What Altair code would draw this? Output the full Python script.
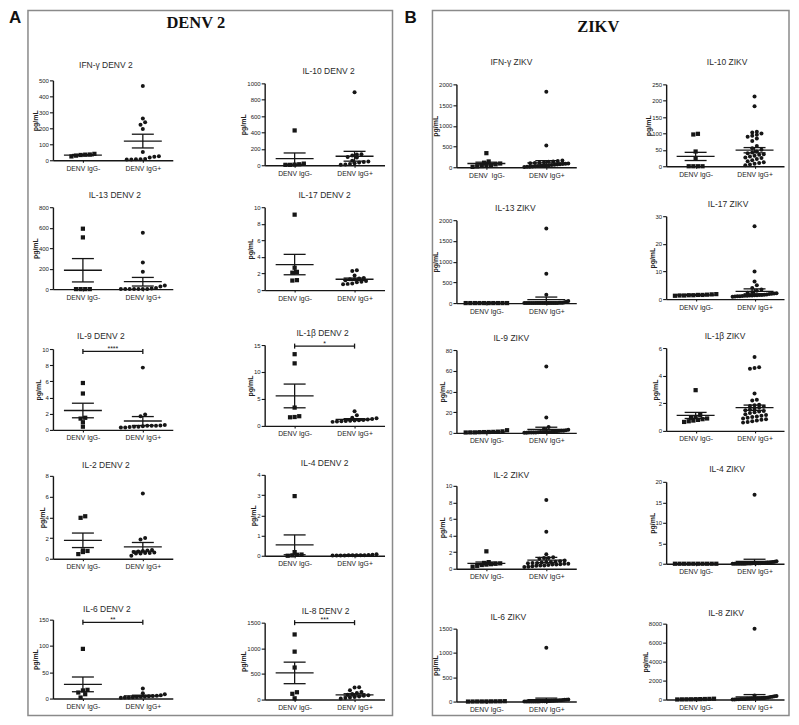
import altair as alt
import pandas as pd

# ------------------------------------------------------------------
# Data (pg/mL). neg = DENV IgG-, pos = DENV IgG+
# stats = [mean IgG-, SEM IgG-, mean IgG+, SEM IgG+]
# ------------------------------------------------------------------
# ---- A: DENV 2 ----
ifng_denv_neg = [40, 36, 33, 29, 24, 35]
ifng_denv_pos = [465, 262, 238, 222, 196, 52, 25, 22, 18, 8, 6, 5, 5, 7]
ifng_denv_stats = [32, 4, 120, 43]

il10_denv_neg = [425, 20, 12, 8, 5, 5]
il10_denv_pos = [890, 135, 130, 120, 100, 95, 55, 45, 40, 35, 25, 15, 8, 5]
il10_denv_stats = [81, 69, 110, 60]

il13_denv_neg = [590, 505, 0, 0, 0, 0]
il13_denv_pos = [550, 260, 170, 35, 25, 10, 5, 2, 0, 0, 0, 0, 0, 0]
il13_denv_stats = [184, 114, 72, 42]

il17_denv_neg = [9.1, 2.7, 2.2, 2.1, 1.15, 1.2]
il17_denv_pos = [2.4, 2.3, 1.75, 1.45, 1.4, 1.3, 1.3, 1.2, 1.1, 1.0, 0.95, 0.8, 0.75, 0.7]
il17_denv_stats = [3.08, 1.23, 1.31, 0.14]

il9_denv_neg = [5.8, 4.5, 1.5, 1.4, 0.95, 0.4]
il9_denv_pos = [7.7, 1.9, 1.7, 0.6, 0.55, 0.5, 0.5, 0.5, 0.45, 0.4, 0.4, 0.35, 0.3, 0.3]
il9_denv_stats = [2.4, 0.9, 1.1, 0.55]
il9_denv_sig = [9.7, "****"]

il1b_denv_neg = [13.3, 11.6, 3.4, 1.8, 1.65, 1.6]
il1b_denv_pos = [2.7, 2.0, 1.5, 1.4, 1.3, 1.2, 1.1, 1.05, 1.0, 0.95, 0.9, 0.85, 0.8, 0.75]
il1b_denv_stats = [5.56, 2.2, 1.2, 0.15]
il1b_denv_sig = [14.8, "*"]

il2_denv_neg = [4.1, 3.95, 0.8, 0.75, 0.45, 0.65]
il2_denv_pos = [6.3, 2.0, 1.85, 0.85, 0.8, 0.75, 0.7, 0.65, 0.6, 0.55, 0.55, 0.5, 0.5, 0.3]
il2_denv_stats = [1.78, 0.7, 1.15, 0.42]

il4_denv_neg = [2.95, 0.18, 0.06, 0.02, 0.0, 0.05]
il4_denv_pos = [0.08, 0.05, 0.04, 0.03, 0.03, 0.02, 0.02, 0.02, 0.01, 0.01, 0.01, 0.01]
il4_denv_stats = [0.54, 0.49, 0.03, 0.006]

il6_denv_neg = [94.5, 16.6, 15.5, 11.5, 8.3, 2.0]
il6_denv_pos = [19, 10, 8, 6.5, 5.5, 5, 4.5, 4, 3.5, 3, 2.5, 2, 2, 1.5]
il6_denv_stats = [27, 14, 5.1, 1.3]
il6_denv_sig = [145, "**"]

il8_denv_neg = [1270, 935, 625, 143, 112, 25]
il8_denv_pos = [242, 235, 180, 150, 130, 110, 95, 85, 75, 60, 50, 40, 30, 20]
il8_denv_stats = [520, 210, 92, 22]
il8_denv_sig = [1500, "***"]

# ---- B: ZIKV ----
ifng_zikv_neg = [340, 140, 110, 90, 70, 55, 40, 30, 20, 10]
ifng_zikv_pos = [1820, 525, 160, 150, 140, 130, 120, 110, 100, 95, 90, 85, 80, 70,
                 65, 60, 55, 50, 45, 40, 35, 30, 25, 20, 15, 10, 5]
ifng_zikv_stats = [90, 32, 104, 56]

il10_zikv_neg = [99, 97, 45, 25, 0, 0, 0, 0]
il10_zikv_pos = [213, 183, 105, 103, 100, 96, 93, 90, 85, 77, 62, 55, 50, 45, 42,
                 40, 37, 35, 32, 30, 27, 25, 22, 18, 15, 12, 10, 8, 5, 3]
il10_zikv_stats = [30, 12.5, 49, 8]

il13_zikv_neg = [0, 0, 0, 0, 0, 0, 0, 0, 0, 0]
il13_zikv_pos = [1800, 705, 200, 50, 30, 20, 10, 5, 5, 0, 0, 0, 0, 0, 0, 0, 0, 0,
                 0, 0, 0, 0, 0, 0, 0, 0, 0, 0]
il13_zikv_stats = [0, 0, 85, 60]

il17_zikv_neg = [1.8, 1.7, 1.6, 1.5, 1.5, 1.4, 1.4, 1.3, 1.3, 1.2]
il17_zikv_pos = [26.4, 10.0, 6.4, 5.0, 4.0, 3.5, 3.0, 2.6, 2.3, 2.1, 2.0, 1.9, 1.8, 1.7,
                 1.6, 1.5, 1.5, 1.4, 1.4, 1.3, 1.3, 1.2, 1.2, 1.1, 1.0, 1.0, 0.9, 0.8]
il17_zikv_stats = [1.47, 0.06, 2.8, 0.9]

il9_zikv_neg = [2.6, 1.5, 1.2, 1.0, 0.9, 0.8, 0.7, 0.5, 0.5, 0.4]
il9_zikv_pos = [64, 14.8, 5.8, 4.0, 3.0, 2.5, 2.0, 2.0, 1.8, 1.5, 1.5, 1.2, 1.0, 1.0,
                1.0, 0.8, 0.8, 0.6, 0.5, 0.5, 0.4, 0.3, 0.2, 0.1]
il9_zikv_stats = [1.0, 0.2, 3.3, 2.2]

il1b_zikv_neg = [2.95, 1.15, 1.0, 0.95, 0.9, 0.85, 0.8, 0.75, 0.7, 0.65]
il1b_zikv_pos = [5.35, 4.6, 4.55, 4.5, 2.7, 2.25, 2.2, 1.9, 1.85, 1.8, 1.75, 1.7, 1.6,
                 1.55, 1.5, 1.45, 1.4, 1.35, 1.3, 1.2, 1.15, 1.1, 1.05, 1.0, 0.95,
                 0.9, 0.85, 0.8, 0.75, 0.7, 0.65, 0.6]
il1b_zikv_stats = [1.12, 0.22, 1.68, 0.19]

il2_zikv_neg = [2.1, 0.8, 0.7, 0.65, 0.6, 0.55, 0.5, 0.45, 0.35, 0.25]
il2_zikv_pos = [8.3, 4.45, 1.75, 1.4, 1.3, 1.3, 1.2, 1.0, 0.9, 0.85, 0.8, 0.8, 0.75,
                0.7, 0.7, 0.65, 0.6, 0.6, 0.55, 0.5, 0.5, 0.45, 0.4, 0.4, 0.35, 0.3,
                0.25, 0.2]
il2_zikv_stats = [0.65, 0.16, 1.05, 0.32]

il4_zikv_neg = [0, 0, 0, 0, 0, 0, 0, 0, 0, 0]
il4_zikv_pos = [16.85, 0.6, 0.5, 0.4, 0.35, 0.3, 0.3, 0.25, 0.2, 0.2, 0.15, 0.15, 0.1,
                0.1, 0.1, 0.05, 0.05, 0.05, 0.0, 0.0, 0.0, 0.0, 0.0, 0.0, 0.0, 0.0]
il4_zikv_stats = [0, 0, 0.6, 0.5]

il6_zikv_neg = [8, 6, 5, 4, 3, 2, 2, 1, 0]
il6_zikv_pos = [1105, 45, 40, 35, 30, 28, 25, 22, 20, 18, 15, 12, 10, 8, 6, 5, 4, 3,
                2, 1, 0, 0, 0, 0, 0, 0]
il6_zikv_stats = [3, 1, 41, 30]

il8_zikv_neg = [90, 70, 60, 50, 40, 30, 25, 20, 10]
il8_zikv_pos = [7470, 420, 380, 350, 300, 260, 220, 200, 180, 160, 150, 130, 120, 110,
                100, 90, 80, 70, 60, 50, 40, 30, 20, 10]
il8_zikv_stats = [45, 9, 280, 245]

GROUP_LABELS = ["DENV IgG-", "DENV IgG+"]

# plot definitions per column (top to bottom)
COLUMNS = [
    [
        dict(title="IFN-γ DENV 2", neg=ifng_denv_neg, pos=ifng_denv_pos, stats=ifng_denv_stats, ymax=500, step=100),
        dict(title="IL-13 DENV 2", neg=il13_denv_neg, pos=il13_denv_pos, stats=il13_denv_stats, ymax=800, step=200),
        dict(title="IL-9 DENV 2", neg=il9_denv_neg, pos=il9_denv_pos, stats=il9_denv_stats, ymax=10, step=2, sig=il9_denv_sig),
        dict(title="IL-2 DENV 2", neg=il2_denv_neg, pos=il2_denv_pos, stats=il2_denv_stats, ymax=8, step=2),
        dict(title="IL-6 DENV 2", neg=il6_denv_neg, pos=il6_denv_pos, stats=il6_denv_stats, ymax=150, step=50, sig=il6_denv_sig),
    ],
    [
        dict(title="IL-10 DENV 2", neg=il10_denv_neg, pos=il10_denv_pos, stats=il10_denv_stats, ymax=1000, step=200),
        dict(title="IL-17 DENV 2", neg=il17_denv_neg, pos=il17_denv_pos, stats=il17_denv_stats, ymax=10, step=2),
        dict(title="IL-1β DENV 2", neg=il1b_denv_neg, pos=il1b_denv_pos, stats=il1b_denv_stats, ymax=15, step=5, sig=il1b_denv_sig),
        dict(title="IL-4 DENV 2", neg=il4_denv_neg, pos=il4_denv_pos, stats=il4_denv_stats, ymax=4, step=1),
        dict(title="IL-8 DENV 2", neg=il8_denv_neg, pos=il8_denv_pos, stats=il8_denv_stats, ymax=1500, step=500, sig=il8_denv_sig),
    ],
    [
        dict(title="IFN-γ ZIKV", neg=ifng_zikv_neg, pos=ifng_zikv_pos, stats=ifng_zikv_stats, ymax=2000, step=500, neglabel="DENV\u00a0 IgG-"),
        dict(title="IL-13 ZIKV", neg=il13_zikv_neg, pos=il13_zikv_pos, stats=il13_zikv_stats, ymax=2000, step=500),
        dict(title="IL-9 ZIKV", neg=il9_zikv_neg, pos=il9_zikv_pos, stats=il9_zikv_stats, ymax=80, step=20),
        dict(title="IL-2 ZIKV", neg=il2_zikv_neg, pos=il2_zikv_pos, stats=il2_zikv_stats, ymax=10, step=2),
        dict(title="IL-6 ZIKV", neg=il6_zikv_neg, pos=il6_zikv_pos, stats=il6_zikv_stats, ymax=1500, step=500),
    ],
    [
        dict(title="IL-10 ZIKV", neg=il10_zikv_neg, pos=il10_zikv_pos, stats=il10_zikv_stats, ymax=250, step=50),
        dict(title="IL-17 ZIKV", neg=il17_zikv_neg, pos=il17_zikv_pos, stats=il17_zikv_stats, ymax=30, step=10),
        dict(title="IL-1β ZIKV", neg=il1b_zikv_neg, pos=il1b_zikv_pos, stats=il1b_zikv_stats, ymax=6, step=2),
        dict(title="IL-4 ZIKV", neg=il4_zikv_neg, pos=il4_zikv_pos, stats=il4_zikv_stats, ymax=20, step=5),
        dict(title="IL-8 ZIKV", neg=il8_zikv_neg, pos=il8_zikv_pos, stats=il8_zikv_stats, ymax=8000, step=2000),
    ],
]

# ------------------------------------------------------------------
# Layout (page pixels)
# ------------------------------------------------------------------
COL_X = [52, 264, 456, 666, 784]        # y-axis x of each column (+ right end)
PLOT_W = [120, 120, 120, 118]           # length of x axis
ROW_Y = [8, 166, 302, 432, 568, 701]    # grid row boundaries
# per plot: (title centre x, title centre y, axis top y, axis bottom y)
GEOM = [
    [(105, 64, 79, 159), (114, 194, 206, 288), (100, 335, 348, 429), (105, 464, 475, 558), (106, 608, 619, 698)],
    [(328, 70, 82, 164), (324, 194, 206, 289), (322, 332, 344, 425), (324, 462, 474, 555), (325, 610, 622, 699)],
    [(511, 61, 83, 166), (515, 207, 219, 302), (511, 337, 349, 432), (511, 474, 485, 568), (508, 616, 628, 701)],
    [(727, 61, 83, 165), (728, 203, 215, 298), (725, 335, 347, 430), (727, 468, 481, 563), (726, 612, 623, 699)],
]

INK = "#161616"
FONT = "Liberation Sans"
ONE = pd.DataFrame({"k": [0]})


def swarm(vals, center, ymax, ph, w, step_px=4.6, tol=3.6, max_half=22):
    """Spread points that sit at (nearly) the same height into centred rows."""
    order = sorted(range(len(vals)), key=lambda i: vals[i])
    xs = [center] * len(vals)
    clusters = []
    for i in order:
        ypx = vals[i] / ymax * ph
        if clusters and ypx - clusters[-1][0] < tol:
            clusters[-1][1].append(i)
        else:
            clusters.append([ypx, [i]])
    for _, idx in clusters:
        n = len(idx)
        step = step_px if n < 2 else min(step_px, 2 * max_half / (n - 1))
        for k, i in enumerate(idx):
            xs[i] = center + (k - (n - 1) / 2) * step / w
    return xs


def make_cell(p, ci, ri, extra=None):
    tcx, tcy, top, bottom = GEOM[ci][ri]
    x0 = COL_X[ci]
    cw = COL_X[ci + 1] - COL_X[ci]
    w = PLOT_W[ci]
    y0 = ROW_Y[ri]
    ch = ROW_Y[ri + 1] - ROW_Y[ri]
    b = bottom - y0
    t = top - y0
    ph = bottom - top
    ymax = p["ymax"]
    neglab = p.get("neglabel", GROUP_LABELS[0])
    xs = alt.Scale(domain=[0, 1], range=[0, w], nice=False, zero=False)
    ys = alt.Scale(domain=[0, ymax], range=[b, t], nice=False, zero=True)
    xaxis = alt.Axis(values=[0.25, 0.75], title=None, grid=False, offset=b - ch,
                     labelExpr="datum.value < 0.5 ? '%s' : '%s'" % (neglab, GROUP_LABELS[1]))
    yaxis = alt.Axis(values=list(range(0, ymax + 1, p["step"])), format="d",
                     title="pg/mL", grid=False)
    X = alt.X("x:Q", scale=xs, axis=xaxis)
    Y = alt.Y("y:Q", scale=ys, axis=yaxis)

    st = p["stats"]
    segs = []
    for c, m, s in [(0.25, st[0], st[1]), (0.75, st[2], st[3])]:
        lo, hi = max(0, m - s), m + s
        segs.append((c - 19 / w, c + 19 / w, m, m))
        segs.append((c - 11 / w, c + 11 / w, hi, hi))
        segs.append((c - 11 / w, c + 11 / w, lo, lo))
        segs.append((c, c, lo, hi))
    layers = []
    if extra:
        layers.extend(extra)
    if "sig" in p:
        sy = p["sig"][0]
        d = 2.5 * ymax / ph
        segs.append((0.25, 0.75, sy, sy))
        segs.append((0.25, 0.25, sy - d, sy + d))
        segs.append((0.75, 0.75, sy - d, sy + d))
    seg_df = pd.DataFrame(segs, columns=["x", "x2", "y", "y2"])
    layers.append(
        alt.Chart(seg_df).mark_rule(color=INK, strokeWidth=1.3).encode(
            x=X, x2=alt.X2("x2"), y=Y, y2=alt.Y2("y2"))
    )
    neg_df = pd.DataFrame({"x": swarm(p["neg"], 0.25, ymax, ph, w), "y": p["neg"]})
    pos_df = pd.DataFrame({"x": swarm(p["pos"], 0.75, ymax, ph, w), "y": p["pos"]})
    layers.append(alt.Chart(neg_df).mark_square(size=18, color=INK, opacity=1).encode(x=X, y=Y))
    layers.append(alt.Chart(pos_df).mark_circle(size=16, color=INK, opacity=1).encode(x=X, y=Y))
    if "sig" in p:
        sdf = pd.DataFrame({"x": [0.5], "y": [p["sig"][0]], "t": [p["sig"][1]]})
        layers.append(alt.Chart(sdf).mark_text(dy=-2.5, fontSize=7, font=FONT, color=INK).encode(
            x=X, y=Y, text="t:N"))
    layers.append(
        alt.Chart(ONE).mark_text(text=p["title"], fontSize=8.5, font=FONT, color="#2a2a2a",
                                 align="center", baseline="middle").encode(
            x=alt.value(tcx - x0), y=alt.value(tcy - y0))
    )
    return alt.layer(*layers).properties(width=cw, height=ch)


# frame elements (drawn from the first cell, origin at page (52, 8))
OX, OY = COL_X[0], ROW_Y[0]
frame = [
    alt.Chart(ONE).mark_rect(opacity=0).encode(
        x=alt.value(8 - OX), x2=alt.value(9 - OX), y=alt.value(0), y2=alt.value(1)),
    alt.Chart(ONE).mark_rect(fill="white", fillOpacity=0, stroke="#8a8a8a", strokeWidth=1.5).encode(
        x=alt.value(27 - OX), x2=alt.value(392 - OX), y=alt.value(9 - OY), y2=alt.value(715 - OY)),
    alt.Chart(ONE).mark_rect(fill="white", fillOpacity=0, stroke="#8a8a8a", strokeWidth=1.5).encode(
        x=alt.value(432 - OX), x2=alt.value(789 - OX), y=alt.value(9 - OY), y2=alt.value(715 - OY)),
    alt.Chart(ONE).mark_text(text="A", fontSize=17, fontWeight="bold", font=FONT, color="#111",
                             align="left", baseline="top").encode(
        x=alt.value(8 - OX), y=alt.value(1)),
    alt.Chart(ONE).mark_text(text="B", fontSize=17, fontWeight="bold", font=FONT, color="#111",
                             align="left", baseline="top").encode(
        x=alt.value(404 - OX), y=alt.value(1)),
    alt.Chart(ONE).mark_text(text="DENV 2", fontSize=16.5, fontWeight="bold", font="Liberation Serif",
                             color="#111", align="center", baseline="middle").encode(
        x=alt.value(195 - OX), y=alt.value(22 - OY)),
    alt.Chart(ONE).mark_text(text="ZIKV", fontSize=16.5, fontWeight="bold", font="Liberation Serif",
                             color="#111", align="center", baseline="middle").encode(
        x=alt.value(598 - OX), y=alt.value(26 - OY)),
]

cells = []
for ri in range(5):
    for ci in range(4):
        extra = frame if (ci == 0 and ri == 0) else None
        cells.append(make_cell(COLUMNS[ci][ri], ci, ri, extra))

chart = alt.concat(*cells, columns=4, spacing=0, bounds="flush").properties(
    padding=0
).configure_view(stroke="transparent").configure_axis(
    domainColor=INK, tickColor=INK, labelColor="#222", titleColor="#222",
    labelFont=FONT, titleFont=FONT, domainWidth=1.4, tickWidth=1.1, grid=False
).configure_axisY(
    labelFontSize=6, tickSize=3.5, labelPadding=1, titleFontSize=7, titleFontWeight="bold",
    titlePadding=0
).configure_axisX(
    labelFontSize=6.8, tickSize=2, labelPadding=3
)

chart.save("out.html", embed_options={"renderer": "svg", "actions": False})
